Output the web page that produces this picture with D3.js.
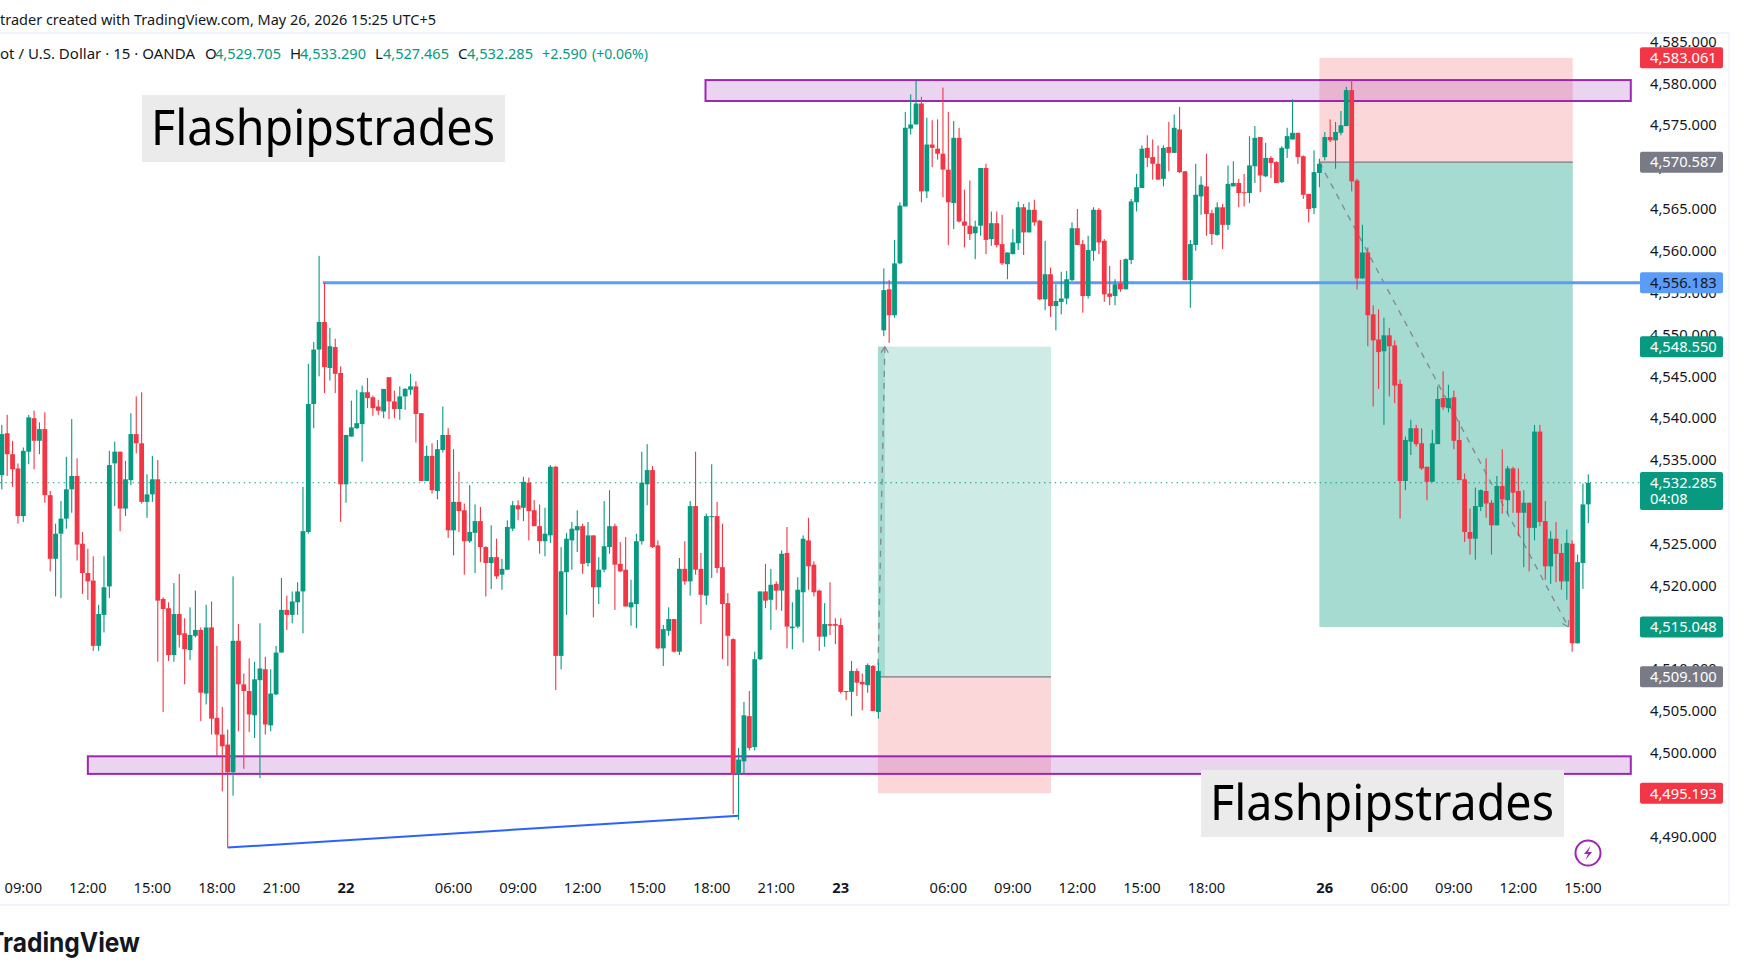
<!DOCTYPE html>
<html>
<head>
<meta charset="utf-8">
<title>XAU/USD 15m</title>
<script src="https://cdn.jsdelivr.net/npm/d3@7"></script>
<style>
  html, body { margin: 0; padding: 0; background: #fff; overflow: hidden; }
  text { font-family: "Noto Sans", Arial, sans-serif; }
</style>
</head>
<body>
<div id="chart"></div>
<script>
////////// Candles: [open, high, low, close] //////////
const bars21 = [
  [4533.2,4539.2,4531.5,4538.1],[4538.2,4540.4,4533.1,4535.7],[4535.7,4537.3,4531.8,4533.9],[4534.0,4534.6,4527.4,4528.3],
  [4528.3,4536.5,4527.6,4536.1],[4536.0,4540.4,4534.5,4540.1],[4540.0,4540.9,4533.9,4537.3],[4537.3,4539.5,4535.7,4538.7],
  [4538.7,4540.7,4529.9,4530.8],[4530.8,4531.3,4521.7,4523.2],[4523.2,4527.4,4518.7,4526.2],[4526.2,4530.1,4518.5,4528.0],
  [4528.0,4535.4,4526.8,4531.5],[4531.5,4539.9,4528.7,4533.1],[4533.1,4535.2,4523.0,4524.9],[4525.0,4526.4,4519.0,4521.5],
  [4521.5,4524.4,4518.3,4520.5],[4520.6,4523.5,4512.2,4512.8],[4512.8,4517.7,4512.2,4516.6],[4516.5,4523.5,4514.4,4519.8],
  [4519.9,4536.1,4518.5,4534.4],[4534.6,4537.2,4529.5,4536.0],[4536.0,4536.0,4526.5,4529.2],[4529.2,4534.9,4528.3,4532.7],
  [4532.6,4540.6,4532.0,4538.1],[4538.1,4542.6,4535.8,4537.0],[4537.0,4543.1,4529.8,4530.0],[4530.0,4533.3,4528.1,4530.9],
  [4530.9,4535.5,4530.0,4532.7],[4532.7,4535.0,4510.9,4518.2],[4518.4,4518.6,4504.9,4517.2],[4517.3,4518.0,4511.0,4511.7],
  [4511.7,4520.3,4510.9,4516.6],[4516.6,4521.4,4512.6,4514.1],[4514.3,4516.1,4508.2,4512.4],[4512.3,4517.4,4511.1,4514.1],
  [4514.0,4519.4,4513.8,4514.7],[4514.7,4515.0,4503.8,4507.2],[4507.1,4517.7,4505.8,4515.0],[4515.0,4518.1,4502.2,4504.1],
  [4504.2,4512.8,4499.6,4502.2],[4502.2,4505.5,4495.4,4500.8],[4501.0,4502.8,4488.7,4497.7],[4497.7,4521.1,4494.9,4513.4],
  [4513.4,4515.4,4502.6,4508.2],[4508.2,4509.5,4498.1,4507.4],[4507.4,4511.3,4502.5,4504.6],[4504.5,4510.9,4501.8,4508.8],
  [4508.7,4515.5,4497.0,4510.1],[4510.0,4511.5,4502.2,4503.4],[4503.3,4510.0,4502.6,4507.1],[4507.0,4512.8,4506.9,4512.0],
  [4512.0,4520.9,4512.0,4517.1],[4517.1,4518.8,4514.7,4516.5],[4516.5,4519.3,4515.5,4518.1],[4518.0,4520.4,4516.5,4519.3],
  [4519.3,4531.8,4514.3,4526.5],[4526.4,4546.5,4526.2,4541.7],[4541.7,4549.1,4538.8,4548.2],[4548.2,4559.4,4545.0,4551.5],
  [4551.5,4556.2,4543.0,4546.1],[4546.0,4550.8,4544.5,4548.6],[4548.5,4549.5,4543.0,4545.3],[4545.4,4546.2,4527.6,4532.1]
];
const bars22 = [
  [4532.1,4538.0,4529.9,4538.0],[4537.8,4542.1,4537.8,4538.9],[4538.8,4543.4,4538.7,4539.4],[4539.3,4543.9,4534.8,4543.1],
  [4543.1,4544.8,4541.2,4542.4],[4542.5,4542.7,4540.3,4541.2],[4541.4,4542.2,4540.4,4540.9],[4540.8,4543.5,4540.0,4543.5],
  [4544.9,4544.9,4539.9,4542.0],[4542.0,4543.3,4540.0,4541.1],[4541.1,4543.8,4539.8,4542.6],[4542.6,4543.6,4541.0,4543.5],
  [4543.4,4545.3,4542.8,4543.8],[4543.8,4544.4,4537.1,4540.5],[4540.6,4540.6,4532.5,4532.5],[4532.5,4536.7,4532.5,4535.5],
  [4535.5,4537.0,4531.0,4531.4],[4531.3,4537.4,4530.3,4536.3],[4536.2,4541.4,4535.9,4538.0],[4538.0,4538.8,4525.7,4526.6],
  [4526.6,4536.3,4523.6,4530.0],[4530.0,4533.6,4526.4,4528.9],[4529.0,4529.8,4521.3,4525.3],[4525.3,4532.0,4525.1,4526.4],
  [4526.3,4529.7,4521.5,4527.7],[4527.7,4529.4,4522.8,4524.6],[4524.6,4524.7,4518.7,4522.7],[4522.7,4527.2,4519.6,4523.4],
  [4523.4,4525.6,4520.8,4521.1],[4521.3,4523.2,4519.5,4522.0],[4521.9,4527.8,4521.9,4527.0],[4526.8,4530.1,4526.5,4529.6],
  [4529.6,4530.2,4527.8,4529.1],[4529.3,4533.0,4527.7,4532.4],[4532.3,4532.9,4525.4,4528.9],[4529.0,4530.2,4527.1,4527.1],
  [4527.1,4529.7,4523.8,4525.3],[4525.3,4529.3,4523.5,4526.2],[4526.0,4534.4,4525.1,4534.2],[4534.2,4534.3,4507.5,4511.6],
  [4511.6,4524.6,4510.0,4521.7],[4521.6,4526.3,4516.5,4525.6],[4525.4,4527.6,4521.9,4526.8],[4526.6,4529.0,4524.0,4527.1],
  [4527.1,4527.4,4521.4,4522.6],[4522.7,4527.6,4522.3,4526.0],[4526.0,4526.0,4516.2,4519.8],[4519.8,4523.4,4517.8,4521.9],
  [4521.9,4530.1,4521.6,4524.7],[4524.6,4531.4,4523.8,4527.1],[4527.1,4527.4,4517.1,4522.5],[4522.6,4525.2,4521.6,4521.7],
  [4521.9,4525.8,4517.5,4517.5],[4517.4,4520.7,4515.2,4518.0],[4517.8,4526.2,4514.9,4525.3],[4525.3,4536.0,4524.9,4532.3],
  [4532.1,4536.9,4529.6,4533.8],[4533.8,4534.3,4524.5,4524.6],[4524.8,4525.4,4512.4,4512.5],[4512.5,4515.3,4510.4,4514.8],
  [4514.6,4517.4,4514.0,4516.0],[4516.0,4516.0,4512.0,4512.1],[4512.1,4523.3,4511.7,4522.0],[4522.0,4525.3,4520.1,4520.5],
  [4520.5,4530.1,4518.8,4529.5],[4529.5,4536.0,4521.3,4521.9],[4522.0,4523.9,4515.4,4518.9],[4518.8,4528.6,4517.7,4528.3],
  [4528.2,4534.5,4520.9,4528.3],[4528.3,4530.0,4521.5,4522.1],[4522.2,4527.4,4511.2,4517.8],[4517.9,4519.1,4510.4,4514.0],
  [4513.6,4513.7,4492.7,4497.5],[4497.5,4500.6,4492.0,4499.2],[4499.0,4506.1,4497.6,4504.5],[4504.4,4507.4,4500.3,4500.6],
  [4500.7,4512.1,4500.3,4511.2],[4511.2,4519.3,4511.1,4519.3],[4519.3,4522.6,4517.3,4518.2],[4518.3,4522.0,4514.7,4520.1],
  [4520.2,4520.5,4517.1,4519.4],[4519.4,4524.2,4517.0,4523.8],[4523.9,4527.0,4512.5,4515.1],[4514.9,4518.0,4512.4,4515.1],
  [4515.1,4521.0,4514.9,4519.5],[4519.2,4526.0,4513.2,4525.6],[4525.4,4528.1,4519.5,4522.3],[4522.5,4522.9,4518.7,4519.2],
  [4519.4,4519.5,4512.2,4513.9],[4513.9,4517.9,4512.7,4515.4],[4515.4,4520.4,4514.1,4515.2],[4515.4,4516.1,4513.0,4515.2]
];
const bars23 = [
  [4515.3,4516.1,4507.1,4507.3],[4507.4,4507.4,4506.3,4507.3],[4507.3,4511.0,4504.4,4509.8],[4509.8,4510.1,4506.8,4508.4],
  [4508.5,4509.5,4505.1,4508.2],[4508.1,4510.7,4507.2,4510.5],[4510.4,4510.5,4505.0,4505.0],[4504.9,4510.8,4504.1,4509.8],
  [4550.5,4557.9,4549.8,4555.3],[4555.4,4556.5,4549.0,4552.3],[4552.3,4561.3,4552.0,4558.5],[4558.5,4565.8,4558.4,4565.4],
  [4565.3,4576.6,4565.3,4574.7],[4574.6,4578.7,4573.9,4575.1],[4575.1,4580.3,4575.1,4577.6],[4577.6,4578.4,4565.8,4567.1],
  [4567.1,4575.9,4566.3,4572.7],[4572.7,4575.6,4570.0,4572.3],[4572.2,4575.7,4570.9,4571.6],[4571.6,4579.5,4566.4,4569.7],
  [4569.7,4576.6,4560.7,4565.8],[4565.7,4575.5,4562.6,4573.5],[4573.5,4574.7,4563.4,4563.5],[4563.5,4567.3,4560.4,4563.0],
  [4563.0,4568.4,4561.3,4562.0],[4562.1,4563.6,4559.0,4562.9],[4563.0,4569.9,4561.8,4569.9],[4569.9,4570.4,4559.6,4561.3],
  [4561.4,4564.7,4560.6,4563.3],[4563.3,4564.7,4560.4,4560.7],[4560.8,4564.3,4558.3,4558.5],[4558.4,4559.8,4556.6,4559.8],
  [4559.6,4562.6,4559.6,4561.0],[4560.9,4565.9,4560.1,4565.2],[4565.2,4565.6,4559.5,4562.2],[4562.2,4565.8,4562.2,4564.9],
  [4564.9,4566.1,4563.0,4563.4],[4563.6,4563.7,4554.1,4554.2],[4554.2,4561.2,4552.9,4557.2],[4557.2,4558.0,4552.1,4553.4],
  [4553.4,4556.0,4550.5,4554.0],[4553.9,4557.5,4552.4,4554.3],[4554.3,4557.6,4553.6,4556.6],[4556.5,4563.4,4556.4,4562.7],
  [4562.7,4565.0,4560.7,4560.7],[4560.8,4561.3,4552.6,4554.6],[4554.6,4561.8,4554.3,4560.1],[4560.0,4565.2,4558.8,4564.9],
  [4564.9,4565.1,4559.6,4561.0],[4561.2,4561.4,4553.9,4554.8],[4554.9,4558.2,4553.5,4554.5],[4554.6,4556.6,4553.5,4556.0],
  [4556.1,4558.9,4555.1,4555.4],[4555.4,4559.1,4555.4,4559.0],[4558.9,4566.2,4558.4,4565.9],[4565.8,4569.2,4564.7,4567.6],
  [4567.5,4572.6,4567.5,4572.2],[4572.3,4573.8,4570.0,4571.1],[4571.2,4573.3,4568.5,4570.4],[4570.4,4572.6,4568.5,4568.5],
  [4568.6,4572.6,4567.7,4572.3],[4572.4,4575.4,4569.5,4571.7],[4571.7,4576.3,4571.7,4574.7],[4574.5,4577.2,4569.3,4569.4],
  [4569.5,4569.5,4556.5,4556.5],[4556.5,4561.3,4553.2,4560.8],[4560.7,4570.4,4560.0,4566.7],[4566.5,4568.9,4564.3,4567.9],
  [4567.7,4571.6,4561.8,4564.4],[4564.5,4564.9,4560.7,4562.0],[4561.9,4565.8,4561.8,4565.2],[4565.2,4565.6,4560.2,4563.1],
  [4563.1,4570.2,4562.5,4568.0],[4567.7,4570.7,4567.7,4568.1],[4568.1,4568.6,4565.2,4566.9],[4567.0,4569.2,4565.3,4566.9],
  [4566.9,4573.7,4565.7,4570.2],[4570.1,4574.9,4568.1,4573.5],[4573.6,4573.6,4567.0,4569.0],[4568.9,4572.9,4568.8,4571.1],
  [4571.1,4571.3,4568.7,4570.5],[4570.6,4570.7,4568.1,4568.1],[4568.2,4572.5,4568.1,4572.3],[4572.2,4574.7,4571.1,4573.7],
  [4573.3,4578.1,4573.3,4574.1],[4574.1,4574.1,4570.4,4571.2],[4571.3,4571.4,4566.2,4566.7],[4566.8,4566.8,4563.4,4565.0],
  [4565.1,4572.0,4564.4,4569.4],[4569.3,4571.0,4567.6,4570.4]
];
const bars26 = [
  [4571.2,4574.2,4570.8,4573.6],[4573.6,4575.7,4573.0,4573.2],[4573.2,4575.4,4569.8,4574.2],[4574.1,4576.7,4573.8,4575.0],
  [4574.9,4579.6,4574.9,4579.2],[4579.2,4580.4,4567.1,4568.3],[4568.4,4568.6,4555.4,4556.7],[4556.7,4563.1,4556.7,4559.8],
  [4559.8,4560.4,4548.6,4552.3],[4552.4,4553.5,4541.4,4549.3],[4549.4,4553.0,4543.5,4547.9],[4548.0,4552.0,4539.2,4549.9],
  [4549.9,4550.8,4542.6,4548.6],[4548.7,4549.3,4541.8,4543.9],[4544.1,4544.6,4528.0,4532.5],[4532.5,4537.8,4531.4,4537.4],
  [4537.2,4539.8,4535.6,4538.8],[4538.8,4539.2,4536.6,4536.9],[4537.0,4538.8,4533.8,4534.0],[4534.2,4534.2,4530.2,4532.4],
  [4532.4,4538.6,4532.4,4537.0],[4536.9,4543.8,4536.9,4542.3],[4542.4,4545.6,4541.0,4541.3],[4541.2,4544.0,4540.7,4542.4],
  [4542.5,4543.3,4536.3,4537.3],[4537.4,4539.7,4532.6,4532.6],[4532.7,4533.4,4525.2,4526.4],[4526.4,4529.2,4523.7,4525.6],
  [4525.6,4531.7,4523.1,4529.5],[4529.4,4531.5,4528.9,4531.4],[4531.3,4535.2,4528.1,4529.8],[4529.9,4530.2,4523.7,4527.2],
  [4527.2,4533.1,4527.2,4531.9],[4531.9,4536.3,4528.6,4530.3],[4530.2,4534.3,4528.5,4534.0],[4534.0,4534.2,4528.7,4531.1],
  [4531.3,4534.0,4525.9,4528.7],[4528.7,4531.4,4522.2,4529.9],[4529.9,4529.9,4521.7,4526.9],[4526.9,4539.2,4525.4,4538.4],
  [4538.4,4539.2,4527.1,4527.6],[4527.7,4530.1,4520.7,4522.3],[4522.3,4526.5,4520.2,4525.6],[4525.6,4527.6,4520.4,4523.8],
  [4523.9,4525.0,4519.5,4520.5],[4520.5,4526.7,4518.3,4525.1],[4525.0,4525.4,4512.1,4513.1],[4513.1,4523.7,4513.1,4522.8],
  [4522.7,4532.2,4519.6,4529.7],[4529.705,4533.29,4527.465,4532.285]
];
const candles = [...bars21, ...bars22, ...bars23, ...bars26];

// tick label and the bar it sits under
const timeBars = [4,16,28,40,52,64,84,96,108,120,132,144,156,176,188,200,212,224,246,258,270,282,294];
const timeLabels = ["09:00","12:00","15:00","18:00","21:00","22","06:00","09:00","12:00","15:00","18:00","21:00","23","06:00","09:00","12:00","15:00","18:00","26","06:00","09:00","12:00","15:00"];
const dayLabels = ["22","23","26"];

const priceTicks = [4585,4580,4575,4570,4565,4560,4555,4550,4545,4540,4535,4530,4525,4520,4515,4510,4505,4500,4495,4490];

// purple zones: start bar, end bar, top price, bottom price
const zoneBars = [[130.85,302.9],[16,302.9]];
const zonePrices = [[4580.4,4577.9],[4499.6,4497.5]];

const lastPrice = 4532.285;
const resistance = 4556.183, resistanceBar = 59.7, axisBar = 304.6;
const trendBars = [42, 137], trendPrices = [4488.7, 4492.5];

// long on the 23rd and short on the 26th
const longBars = [162.9, 195.1], longLevels = [4548.55, 4509.1, 4495.193];
const longPathBars = [162.9, 164.2];
const shortBars = [245, 292.1], shortLevels = [4583.061, 4570.587, 4515.048];
const shortPathBars = [245, 291.3];

// [price, fill, text colour] for the boxes on the price scale
const priceBoxes = [
  [4583.061,"#f23645","#fff"],[4570.587,"#787b86","#fff"],[4556.183,"#5b9cf6","#131722"],[4548.55,"#089981","#fff"],
  [4515.048,"#089981","#fff"],[4509.1,"#787b86","#fff"],[4495.193,"#f23645","#fff"]
];

/////////// scales
const width = 1742, height = 980;
const x = d3.scaleLinear().domain([0, 295]).range([1.8, 1588.3]);
const y = d3.scaleLinear().domain([4495.193, 4583.061]).range([793.2, 57.8]);
const UP = "#089981", DOWN = "#f23645";
const fmt = d3.format(",.3f");

const svg = d3.select("#chart").append("svg").attr("width", width).attr("height", height)
  .style("display", "block");

function label(g, px, py, str, size, color, opts = {}) {
  const t = g.append("text").attr("x", px).attr("y", py).attr("font-size", size).attr("fill", color)
    .attr("text-anchor", opts.anchor || "start").attr("font-weight", opts.weight || 400).text(str);
  if (opts.len) t.attr("textLength", opts.len).attr("lengthAdjust", "spacingAndGlyphs");
  return t;
}

/////////// frame
svg.append("line").attr("x1", 0).attr("x2", 1729).attr("y1", 33).attr("y2", 33).attr("stroke", "#f0f3fa").attr("stroke-width", 2);
svg.append("line").attr("x1", 0).attr("x2", 1729).attr("y1", 905).attr("y2", 905).attr("stroke", "#f0f3fa").attr("stroke-width", 2);
svg.append("line").attr("x1", 1729).attr("x2", 1729).attr("y1", 33).attr("y2", 905).attr("stroke", "#f0f3fa").attr("stroke-width", 1.5);

/////////// position boxes
const drawings = svg.append("g");
function box(a, b, top, bottom, fill) {
  drawings.append("rect").attr("x", x(a)).attr("width", x(b) - x(a))
    .attr("y", y(top)).attr("height", y(bottom) - y(top)).attr("fill", fill);
}
const greenFill = "rgba(8,153,129,0.2)", redFill = "rgba(242,54,69,0.2)";

box(longBars[0], longBars[1], longLevels[0], longLevels[1], greenFill);
box(longBars[0], longBars[1], longLevels[1], longLevels[2], redFill);
box(longPathBars[0], longPathBars[1], longLevels[0], longLevels[1], greenFill);

box(shortBars[0], shortBars[1], shortLevels[0], shortLevels[1], redFill);
box(shortBars[0], shortBars[1], shortLevels[1], shortLevels[2], greenFill);
box(shortBars[0], shortBars[1], shortLevels[1], shortLevels[2], greenFill);

[[longBars, longLevels[1]], [shortBars, shortLevels[1]]].forEach(([bars, p]) => {
  drawings.append("line").attr("x1", x(bars[0])).attr("x2", x(bars[1])).attr("y1", y(p)).attr("y2", y(p))
    .attr("stroke", "#787b86").attr("stroke-width", 1.2);
});

/////////// dashed trade paths with a little arrow head
function tradePath(a, pa, b, pb) {
  const x1 = x(a), y1 = y(pa), x2 = x(b), y2 = y(pb);
  drawings.append("line").attr("x1", x1).attr("y1", y1).attr("x2", x2).attr("y2", y2)
    .attr("stroke", "#787b86").attr("stroke-width", 1.4).attr("stroke-dasharray", "6 6").attr("opacity", 0.8);
  const ang = Math.atan2(y2 - y1, x2 - x1);
  [-2.6, 2.6].forEach(d => {
    drawings.append("line").attr("x1", x2).attr("y1", y2)
      .attr("x2", x2 + 7 * Math.cos(ang + d)).attr("y2", y2 + 7 * Math.sin(ang + d))
      .attr("stroke", "#787b86").attr("stroke-width", 1.2).attr("opacity", 0.8);
  });
}
tradePath(longPathBars[0], longLevels[1], longPathBars[1], longLevels[0]);
tradePath(shortPathBars[0], shortLevels[1], shortPathBars[1], shortLevels[2]);

/////////// purple zones
zoneBars.forEach((b, i) => {
  drawings.append("rect").attr("x", x(b[0])).attr("width", x(b[1]) - x(b[0]))
    .attr("y", y(zonePrices[i][0])).attr("height", y(zonePrices[i][1]) - y(zonePrices[i][0]))
    .attr("fill", "rgba(156,39,176,0.2)").attr("stroke", "#9c27b0").attr("stroke-width", 2);
});

/////////// last price dots, resistance, trend line
drawings.append("line").attr("x1", 0).attr("x2", 1640).attr("y1", y(lastPrice)).attr("y2", y(lastPrice))
  .attr("stroke", UP).attr("stroke-width", 1.2).attr("stroke-dasharray", "1.4 3.9");
drawings.append("line").attr("x1", x(resistanceBar)).attr("x2", x(axisBar)).attr("y1", y(resistance)).attr("y2", y(resistance))
  .attr("stroke", "#5b9cf6").attr("stroke-width", 3);
drawings.append("line").attr("x1", x(trendBars[0])).attr("x2", x(trendBars[1]))
  .attr("y1", y(trendPrices[0])).attr("y2", y(trendPrices[1]))
  .attr("stroke", "#2962ff").attr("stroke-width", 2);

/////////// candles
const bars = svg.append("g").selectAll("g").data(candles).enter().append("g")
  .attr("fill", d => d[3] >= d[0] ? UP : DOWN);
bars.append("rect").attr("x", (d, i) => x(i) - 0.55).attr("width", 1.1)
  .attr("y", d => y(d[1])).attr("height", d => y(d[2]) - y(d[1]));
bars.append("rect").attr("x", (d, i) => x(i) - 2.4).attr("width", 4.8)
  .attr("y", d => y(Math.max(d[0], d[3])))
  .attr("height", d => Math.max(1, Math.abs(y(d[0]) - y(d[3]))));

/////////// price axis
const yAxis = d3.axisRight(y).tickValues(priceTicks).tickFormat(fmt).tickSize(0).tickPadding(0);
const yG = svg.append("g").attr("transform", "translate(1650,0)").call(yAxis);
yG.select(".domain").remove();
yG.selectAll("text").attr("font-size", 14.7).attr("fill", "#131722").attr("font-family", '"Noto Sans", Arial, sans-serif');

/////////// price boxes
const boxes = svg.append("g");
priceBoxes.forEach(([p, fill, ink]) => {
  boxes.append("rect").attr("x", 1640).attr("y", y(p) - 10.5).attr("width", 83).attr("height", 21).attr("rx", 2).attr("fill", fill);
  label(boxes, 1650, y(p) + 5.3, fmt(p), 14.7, ink);
});
boxes.append("rect").attr("x", 1640).attr("y", 472).attr("width", 83).attr("height", 38).attr("rx", 2).attr("fill", UP);
label(boxes, 1650, y(lastPrice) + 5.3, fmt(lastPrice), 14.7, "#fff");
label(boxes, 1650, 504, "04:08", 14.7, "#fff");

/////////// time axis
const timeG = svg.append("g");
timeBars.forEach((b, i) => {
  const isDay = dayLabels.includes(timeLabels[i]);
  label(timeG, x(b), 892.5, timeLabels[i], 14.7, "#131722", { anchor: "middle", weight: isDay ? 700 : 400 });
});

/////////// header
label(svg, 0, 25, "trader created with TradingView.com, May 26, 2026 15:25 UTC+5", 15, "#131722", { len: 436 });
const head = svg.append("g");
label(head, 0, 59, "ot / U.S. Dollar · 15 · OANDA", 15, "#131722", { len: 195 });
[[205,"O"],[290,"H"],[375,"L"],[458,"C"]].forEach(([px, s]) => label(head, px, 59, s, 15, "#131722"));
[[215,"4,529.705",66],[300,"4,533.290",66],[383,"4,527.465",66],[467,"4,532.285",66],[542,"+2.590",45],[592,"(+0.06%)",56]]
  .forEach(([px, s, w]) => label(head, px, 59, s, 15, UP, { len: w }));

/////////// watermarks
[[142,95],[1201,770]].forEach(([bx, by]) => {
  svg.append("rect").attr("x", bx).attr("y", by).attr("width", 363).attr("height", 67).attr("fill", "#ebebeb");
  label(svg, bx + 9, by + 50, "Flashpipstrades", 50, "#000", { len: 344 });
});

/////////// lightning badge
const badge = svg.append("g").attr("transform", "translate(1588,853)");
badge.append("circle").attr("r", 12.5).attr("fill", "#fff").attr("stroke", "#9c27b0").attr("stroke-width", 2);
badge.append("path").attr("d", "M2.5,-7 L-4,1 L0,1 L-2.5,7 L4,-1 L0,-1 Z").attr("fill", "#9c27b0");

/////////// logo
label(svg, 140, 952, "TradingView", 27, "#131722", { anchor: "end", weight: 700, len: 152 }).style("font-family", "Inter");
</script>
</body>
</html>
